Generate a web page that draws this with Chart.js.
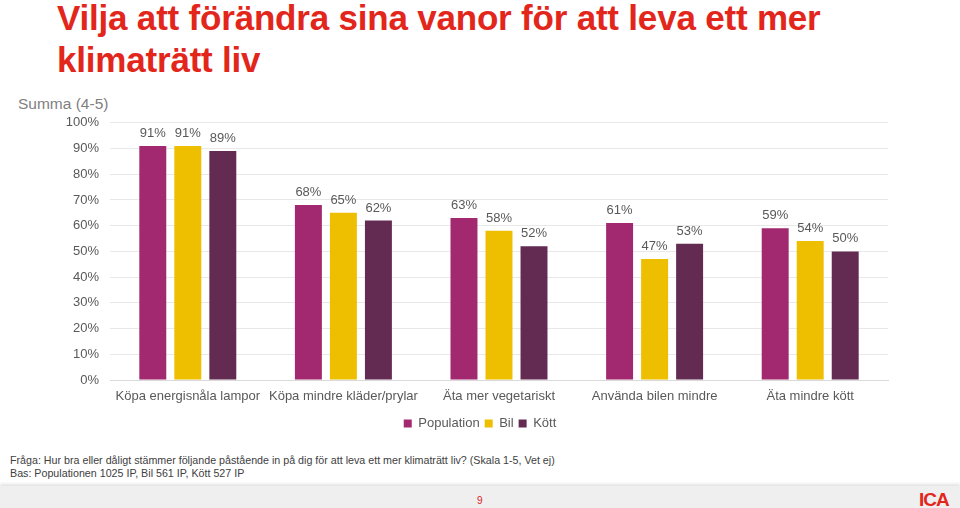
<!DOCTYPE html>
<html>
<head>
<meta charset="utf-8">
<script src="https://cdn.jsdelivr.net/npm/chart.js@4/dist/chart.umd.min.js"></script>
<style>
  html, body { margin: 0; padding: 0; background: #fff; }
  body { width: 960px; height: 508px; position: relative; overflow: hidden; font-family: "Liberation Sans", Arial, sans-serif; }
  #title { position: absolute; left: 57px; top: -3px; font-size: 35px; font-weight: bold; line-height: 42px; color: #e2261b; letter-spacing: -0.2px; }
  #ytitle { position: absolute; left: 18px; top: 95px; font-size: 15.5px; color: #808080; }
  #wrap { position: absolute; left: 0; top: 104px; width: 960px; height: 336px; }
  #note { position: absolute; left: 10px; top: 454px; font-size: 10.7px; line-height: 13px; color: #404040; }
  #foot { position: absolute; left: 0; top: 486px; width: 960px; height: 22px; background: #efefef; box-shadow: 0 -2px 3px rgba(0,0,0,0.12); }
  #page { position: absolute; left: 477px; top: 495px; font-size: 10px; color: #d9261c; }
  #logo { position: absolute; left: 919px; top: 489px; font-size: 19px; font-weight: bold; color: #e2261b; letter-spacing: -1px; }
</style>
</head>
<body>
<div id="title">Vilja att förändra sina vanor för att leva ett mer<br>klimaträtt liv</div>
<div id="ytitle">Summa (4-5)</div>
<div id="wrap"><canvas id="chart"></canvas></div>
<div id="note">Fråga: Hur bra eller dåligt stämmer följande påstående in på dig för att leva ett mer klimaträtt liv? (Skala 1-5, Vet ej)<br>Bas: Populationen 1025 IP, Bil 561 IP, Kött 527 IP</div>
<div id="foot"></div>
<div id="page">9</div>
<div id="logo">ICA</div>
<script>
const categories = ['Köpa energisnåla lampor', 'Köpa mindre kläder/prylar', 'Äta mer vegetariskt', 'Använda bilen mindre', 'Äta mindre kött'];
const population = [91, 68, 63, 61, 59];
const bil = [91, 65, 58, 47, 54];
const kott = [89, 62, 52, 53, 50];
const yTicks = [0, 10, 20, 30, 40, 50, 60, 70, 80, 90, 100];

const font = { size: 13, family: '"Liberation Sans", Arial, sans-serif' };

// etiketter ovanför staplarna
const valueLabels = {
  id: 'valueLabels',
  afterDatasetsDraw(chart) {
    const ctx = chart.ctx;
    ctx.save();
    ctx.font = '13px "Liberation Sans", Arial, sans-serif';
    ctx.fillStyle = '#595959';
    ctx.textAlign = 'center';
    ctx.textBaseline = 'bottom';
    chart.data.datasets.forEach((ds, i) => {
      chart.getDatasetMeta(i).data.forEach((bar, j) => {
        ctx.fillText(ds.data[j] + '%', bar.x, bar.y - 6);
      });
    });
    ctx.restore();
  }
};

new Chart(document.getElementById('chart'), {
  type: 'bar',
  data: {
    labels: categories,
    datasets: [
      { label: 'Population', data: population, backgroundColor: '#a2286f' },
      { label: 'Bil', data: bil, backgroundColor: '#eebf00' },
      { label: 'Kött', data: kott, backgroundColor: '#632a52' }
    ]
  },
  options: {
    responsive: true,
    maintainAspectRatio: false,
    animation: false,
    layout: { padding: { left: 0, right: 0, top: 6, bottom: 0 } },
    categoryPercentage: 0.675,
    barPercentage: 0.77,
    scales: {
      x: {
        grid: { display: false },
        border: { color: '#d9d9d9' },
        ticks: { color: '#595959', font, padding: 1, maxRotation: 0, autoSkip: false },
        afterFit: s => { s.height = 32; }
      },
      y: {
        min: 0, max: 100,
        afterBuildTicks: s => { s.ticks = yTicks.map(v => ({ value: v })); },
        grid: { color: '#e8e8e8', drawTicks: false },
        border: { display: false },
        ticks: { color: '#595959', font, padding: 11, callback: v => v + '%' },
        afterFit: s => { s.width = 110; }
      },
      // tom axel till höger, bara för att lämna plats
      right: {
        position: 'right',
        grid: { display: false },
        border: { display: false },
        ticks: { display: false },
        afterFit: s => { s.width = 72; }
      }
    },
    plugins: {
      legend: {
        position: 'bottom',
        labels: { boxWidth: 8, boxHeight: 8, padding: 5, color: '#595959', font }
      },
      tooltip: { enabled: false }
    }
  },
  plugins: [valueLabels]
});
</script>
</body>
</html>
